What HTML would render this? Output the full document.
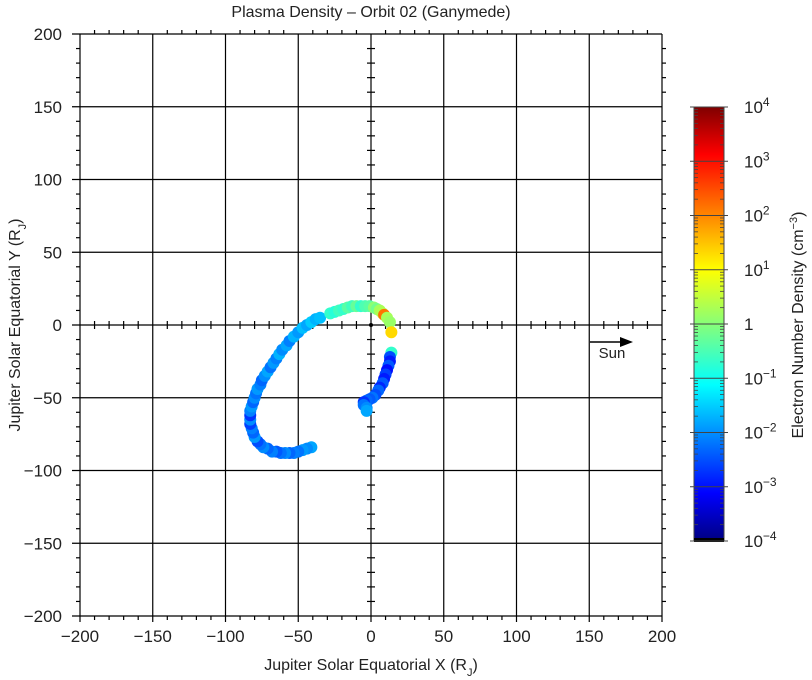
<!DOCTYPE html>
<html><head><meta charset="utf-8"><style>
html,body{margin:0;padding:0;background:#fff;}
svg{display:block;font-family:"Liberation Sans",sans-serif;}
</style></head><body>
<svg id="chart" width="812" height="680" viewBox="0 0 812 680" xmlns="http://www.w3.org/2000/svg">
<defs>
<linearGradient id="jet" x1="0" y1="1" x2="0" y2="0">
<stop offset="0" stop-color="#000080"/><stop offset="0.11" stop-color="#0000ff"/><stop offset="0.36" stop-color="#00ffff"/><stop offset="0.625" stop-color="#ffff00"/><stop offset="0.89" stop-color="#ff0000"/><stop offset="1" stop-color="#800000"/>
</linearGradient>
</defs>
<text x="371" y="17" font-size="16" text-anchor="middle" fill="#222">Plasma Density – Orbit 02 (Ganymede)</text>
<g id="axes"></g>
<g id="points"></g>
<g>
<line x1="590" y1="342" x2="624" y2="342" stroke="#000" stroke-width="1.5"/>
<polygon points="633,342 620,337 620,347" fill="#000"/>
<text x="612" y="358" font-size="15" text-anchor="middle" fill="#222">Sun</text>
</g>
<text x="371" y="670" font-size="16" text-anchor="middle" fill="#222">Jupiter Solar Equatorial X (R<tspan baseline-shift="sub" font-size="11">J</tspan>)</text>
<text transform="translate(20,325) rotate(-90)" font-size="16" text-anchor="middle" fill="#222">Jupiter Solar Equatorial Y (R<tspan baseline-shift="sub" font-size="11">J</tspan>)</text>
<g>
<rect x="694" y="107" width="30" height="434" fill="url(#jet)" stroke="#444" stroke-width="1"/>
<rect x="694" y="538" width="30" height="4" fill="#000"/>
</g>
<g id="cbticks"></g>
<text transform="translate(803,325) rotate(-90)" font-size="16" text-anchor="middle" fill="#222">Electron Number Density (cm<tspan baseline-shift="super" font-size="11">−3</tspan>)</text>
</svg>
<script>
const xTicks=[-200,-150,-100,-50,0,50,100,150,200];
const yTicks=[-200,-150,-100,-50,0,50,100,150,200];
const cbExp=[-4,-3,-2,-1,0,1,2,3,4];
const xs=[-41,-44,-47,-50,-53,-56,-59,-62,-65,-68,-71,-74,-76,-78,-80,-81,-82,-83,-83,-83,-83,-82,-81,-80,-79,-78,-76,-75,-73,-71,-69,-67,-65,-63,-61,-58,-56,-53,-50,-47,-44,-41,-38,-35,
-28,-25,-22,-19,-16,-13,-10,-7,-4,-1,2,4,6,8,9,11,13,14,
14,13,13,12,11,10,9,8,6,5,3,1,-1,-3,-5,-5,-3,-3];
const ys=[-84,-85,-86,-87,-88,-88,-88,-88,-87,-87,-85,-84,-82,-80,-77,-74,-71,-68,-65,-62,-59,-56,-53,-50,-47,-44,-41,-38,-35,-32,-29,-26,-23,-20,-17,-14,-11,-8,-5,-2,0,2,4,5,
8,9,10,11,12,13,13,13,13,13,12,11,10,8,7,5,2,-5,
-19,-22,-25,-28,-31,-34,-37,-40,-43,-45,-48,-50,-51,-52,-53,-55,-57,-59];
const logDens=[-1.7,-1.9,-1.8,-2.1,-2.0,-2.2,-1.9,-2.1,-2.3,-2.0,-2.2,-1.9,-2.1,-2.4,-1.8,-2.2,-2.0,-2.5,-1.9,-2.6,-2.0,-1.8,-2.2,-1.9,-2.1,-1.8,-2.0,-2.2,-1.9,-1.7,-2.1,-1.8,-2.0,-1.6,-1.9,-1.7,-2.0,-1.6,-1.8,-1.5,-1.7,-1.4,-1.6,-1.5,
-0.6,-0.7,-0.5,-0.6,-0.3,-0.5,-0.2,-0.6,-0.4,-0.3,0.1,-0.1,0.3,0.4,2.1,0.3,0.2,1.3,
-0.6,-2.4,-2.8,-2.3,-2.9,-2.5,-2.8,-2.3,-2.7,-2.2,-2.4,-2.1,-2.3,-2.2,-2.6,-2.1,-1.9,-1.7];

const NS="http://www.w3.org/2000/svg";
const L=80,R=662,T=34,B=616;
const sx=v=>L+(v+200)/400*(R-L);
const sy=v=>B-(v+200)/400*(B-T);
const cy=e=>541-(e+4)/8*434;
function mk(tag,attrs,parent){const e=document.createElementNS(NS,tag);for(const k in attrs)e.setAttribute(k,attrs[k]);parent.appendChild(e);return e;}
function jet(t){t=Math.max(0,Math.min(1,t));const f=x=>Math.round(255*Math.max(0,Math.min(1,1.5-Math.abs(4*t-x))));return `rgb(${f(3)},${f(2)},${f(1)})`;}
const ax=document.getElementById('axes');
const S={stroke:"#000","stroke-width":1.2};
xTicks.forEach(v=>{
  const l=mk('line',{x1:sx(v),x2:sx(v),y1:T,y2:B+6,...S},ax);
  
  
  const t=mk('text',{x:sx(v),y:642,"font-size":17,"text-anchor":"middle",fill:"#222"},ax);
  t.textContent=v<0?'−'+(-v):String(v);
  
  
});
yTicks.forEach(v=>{
  const l=mk('line',{x1:L-8,x2:R,y1:sy(v),y2:sy(v),...S},ax);
  
  
  const t=mk('text',{x:62,y:sy(v)+6,"font-size":17,"text-anchor":"end",fill:"#222"},ax);
  t.textContent=v<0?'−'+(-v):String(v);
  
  
});
for(let v=-200;v<=200;v+=10){
  if(v%50===0)continue;
  mk('line',{x1:sx(v),x2:sx(v),y1:B,y2:B+4,...S},ax);
  mk('line',{x1:sx(v),x2:sx(v),y1:T,y2:T-4,...S},ax);
  mk('line',{x1:sx(v),x2:sx(v),y1:sy(0)-4,y2:sy(0)+4,...S},ax);
  mk('line',{x1:L,x2:L-4,y1:sy(v),y2:sy(v),...S},ax);
  mk('line',{x1:R,x2:R+4,y1:sy(v),y2:sy(v),...S},ax);
  mk('line',{x1:sx(0)-4,x2:sx(0)+4,y1:sy(v),y2:sy(v),...S},ax);
}
mk('circle',{cx:sx(0),cy:sy(0),r:2,fill:"#000"},ax);
const pg=document.getElementById('points');
for(let i=0;i<xs.length;i++){
  const c=mk('circle',{cx:sx(xs[i]),cy:sy(ys[i]),r:6,fill:jet((logDens[i]+4)/8)},pg);
  
  
}
const cg=document.getElementById('cbticks');
cbExp.forEach(e=>{
  const y=cy(e);
  mk('line',{x1:690,x2:728,y1:y,y2:y,stroke:"#444","stroke-width":1},cg);
  if(e<4){for(let k=2;k<10;k++){const yy=y-Math.log10(k)*434/8;mk('line',{x1:694,x2:698,y1:yy,y2:yy,stroke:"#444","stroke-width":0.8},cg);mk('line',{x1:720,x2:724,y1:yy,y2:yy,stroke:"#444","stroke-width":0.8},cg);}}
  const t=mk('text',{x:744,y:y+6,"font-size":17,fill:"#222"},cg);
  
  
  if(e===0){t.textContent='1';}
  else{t.textContent='10';const s=mk('tspan',{"baseline-shift":"super","font-size":12},t);s.textContent=e<0?'−'+(-e):String(e);}
});
</script>
</body></html>
